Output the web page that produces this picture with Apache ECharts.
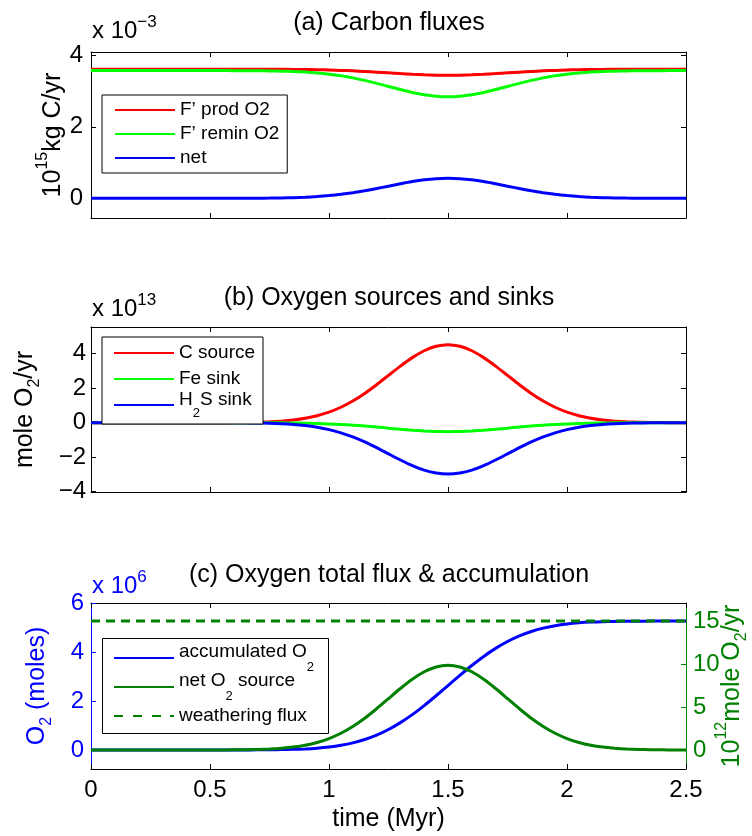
<!DOCTYPE html>
<html><head><meta charset="utf-8">
<script src="https://cdn.jsdelivr.net/npm/echarts@6/dist/echarts.min.js"></script>
<style>html,body{margin:0;padding:0;background:#fff}#c{width:752px;height:836px}</style>
</head><body><div id="c"></div>
<script>
// ---- data ----
const time = [0,0.05,0.1,0.15,0.2,0.25,0.3,0.35,0.4,0.45,0.5,0.55,0.6,0.65,0.7,0.75,0.8,0.85,0.9,0.95,1,1.05,1.1,1.15,1.2,1.25,1.3,1.35,1.4,1.45,1.5,1.55,1.6,1.65,1.7,1.75,1.8,1.85,1.9,1.95,2,2.05,2.1,2.15,2.2,2.25,2.3,2.35,2.4,2.45,2.5];
// (a) carbon fluxes, x 10^-3 (10^15 kg C/yr)
const prodO2 = [3.61,3.61,3.61,3.61,3.61,3.61,3.61,3.61,3.61,3.61,3.61,3.61,3.610,3.609,3.609,3.608,3.607,3.604,3.600,3.595,3.587,3.576,3.563,3.546,3.527,3.507,3.487,3.468,3.453,3.443,3.440,3.443,3.453,3.468,3.487,3.507,3.527,3.546,3.563,3.576,3.587,3.595,3.600,3.604,3.607,3.608,3.609,3.609,3.610,3.61,3.61];
const reminO2 = [3.57,3.57,3.57,3.57,3.57,3.57,3.57,3.57,3.57,3.57,3.57,3.57,3.569,3.568,3.566,3.562,3.555,3.545,3.529,3.505,3.471,3.425,3.367,3.296,3.214,3.127,3.040,2.960,2.896,2.855,2.840,2.855,2.896,2.960,3.040,3.127,3.214,3.296,3.367,3.425,3.471,3.505,3.529,3.545,3.555,3.562,3.566,3.568,3.569,3.57,3.57];
const netC = [0,0,0,0,0,0,0,0,0,0,0,0,0.001,0.002,0.003,0.006,0.011,0.019,0.031,0.050,0.076,0.111,0.156,0.210,0.273,0.340,0.407,0.468,0.517,0.549,0.560,0.549,0.517,0.468,0.407,0.340,0.273,0.210,0.156,0.111,0.076,0.050,0.031,0.019,0.011,0.006,0.003,0.002,0.001,0,0];
// (b) oxygen sources and sinks, x 10^13 mole O2/yr
const cSource = [0,0,0,0,0,0,0,0,0,0,0,0,0.007,0.014,0.027,0.050,0.090,0.154,0.253,0.402,0.610,0.895,1.257,1.695,2.201,2.744,3.282,3.774,4.172,4.430,4.520,4.430,4.172,3.774,3.282,2.744,2.201,1.695,1.257,0.895,0.610,0.402,0.253,0.154,0.090,0.050,0.027,0.014,0.007,0,0];
const feSink = [0,0,0,0,0,0,0,0,0,0,0,0,-0.001,-0.002,-0.003,-0.006,-0.010,-0.018,-0.029,-0.046,-0.070,-0.103,-0.145,-0.195,-0.253,-0.316,-0.378,-0.434,-0.480,-0.510,-0.520,-0.510,-0.480,-0.434,-0.378,-0.316,-0.253,-0.195,-0.145,-0.103,-0.070,-0.046,-0.029,-0.018,-0.010,-0.006,-0.003,-0.002,-0.001,0,0];
const h2sSink = [0,0,0,0,0,0,0,0,0,0,0,0,-0.004,-0.009,-0.018,-0.033,-0.060,-0.101,-0.167,-0.265,-0.402,-0.590,-0.828,-1.118,-1.451,-1.809,-2.163,-2.488,-2.751,-2.920,-2.980,-2.920,-2.751,-2.488,-2.163,-1.809,-1.451,-1.118,-0.828,-0.590,-0.402,-0.265,-0.167,-0.101,-0.060,-0.033,-0.018,-0.009,-0.004,0,0];
// (c) accumulated O2 (x 10^6 moles) and net O2 source (10^12 mole O2/yr)
const accumO2 = [0,0,0,0,0,0,0,0,0,0,0,0,0.001,0.002,0.004,0.007,0.014,0.025,0.043,0.073,0.120,0.190,0.289,0.427,0.608,0.838,1.119,1.448,1.819,2.221,2.640,3.059,3.461,3.832,4.161,4.442,4.672,4.853,4.991,5.090,5.160,5.207,5.237,5.255,5.266,5.273,5.276,5.278,5.279,5.28,5.28];
const netO2Source = [0,0,0,0,0,0,0,0,0,0,0,0,0.015,0.030,0.059,0.108,0.197,0.335,0.552,0.877,1.330,1.950,2.738,3.694,4.797,5.979,7.151,8.225,9.092,9.653,9.850,9.653,9.092,8.225,7.151,5.979,4.797,3.694,2.738,1.950,1.330,0.877,0.552,0.335,0.197,0.108,0.059,0.030,0.015,0,0];
const weatherTime = [0, 2.5];
const weatheringFlux = [15, 15];
// tick labels
const xTicks = [0, 0.5, 1, 1.5, 2, 2.5];
const aTicks = [0, 2, 4];
const bTicks = [-4, -2, 0, 2, 4];
const cLeftTicks = [0, 2, 4, 6];
const cRightTicks = [0, 5, 10, 15];
// legend labels (rich text for subscripts)
const legendLabels = {
  'C source': '{c|C source}',
  'Fe sink': '{c|Fe sink}',
  'H2S sink': '{t|H}{s|2}{t|S sink}{z| }',
  'accumulated O2': '{t|accumulated O}{s|2}{z| }',
  'net O2 source': '{t|net O}{s|2}{t| source}{z| }',
  'weathering flux': '{c|weathering flux}'
};

// ---- chart ----
const FONT = '"Liberation Sans", Arial, Helvetica, sans-serif';
const BLUE = '#0000ff', RED = '#ff0000', LIME = '#00ff00', DGREEN = '#008000';
const DASH_ICON = 'path://M0 0H9V2H0Z M19 0H28V2H19Z M38 0H47V2H38Z M56 0H60V2H56Z';
const chart = echarts.init(document.getElementById('c'), null, {renderer: 'canvas'});
function pairs(xs, ys) { return xs.map((t, i) => [t, ys[i]]); }
function fmt(v) { return v < 0 ? '\u2212' + Math.abs(v) : String(v); }

const nameRich = {
  b: {fontSize: 25, fontFamily: FONT, lineHeight: 36},
  p: {fontSize: 16, fontFamily: FONT, lineHeight: 16, verticalAlign: 'top'},
  s: {fontSize: 16, fontFamily: FONT, lineHeight: 16, verticalAlign: 'bottom'}
};

function xAx(gi, pos, labels) {
  const a = {
    type: 'value', gridIndex: gi, position: pos, min: 0, max: 2.5, interval: 0.5,
    axisLine: {show: true, onZero: false, lineStyle: {color: '#000', width: 1}},
    axisTick: {show: true, inside: true, length: 5, customValues: xTicks, lineStyle: {color: '#000'}},
    axisLabel: {show: labels, customValues: xTicks, fontSize: 24, fontFamily: FONT, color: '#000', margin: 9,
                showMinLabel: true, showMaxLabel: true},
    splitLine: {show: false}
  };
  if (labels) {
    a.name = 'time (Myr)'; a.nameLocation = 'middle'; a.nameGap = 38;
    a.nameTextStyle = {fontSize: 25, fontFamily: FONT, color: '#000'};
  }
  return a;
}
function yAx(gi, pos, min, max, ticks, opts) {
  const color = opts.color || '#000';
  const a = {
    type: 'value', gridIndex: gi, position: pos, min: min, max: max,
    axisLine: {show: true, onZero: false, lineStyle: {color: opts.lineColor || color, width: 1}},
    axisTick: {show: true, inside: true, length: 5, customValues: ticks, lineStyle: {color: opts.lineColor || color}},
    axisLabel: {show: !!opts.labels, customValues: ticks, formatter: fmt, fontSize: 24, fontFamily: FONT,
                color: color, margin: opts.margin || 7},
    splitLine: {show: false}
  };
  if (opts.name) {
    a.name = opts.name; a.nameLocation = 'middle'; a.nameGap = opts.nameGap; a.nameRotate = 90;
    a.nameMoveOverlap = false;
    a.nameTextStyle = {color: color, fontFamily: FONT, fontSize: 25, rich: nameRich};
  }
  return a;
}
function legendBase(top, pad, gap) {
  return {
    orient: 'vertical', left: 102, top: top,
    itemWidth: 60, itemHeight: 2, itemGap: gap, padding: pad,
    borderColor: '#000', borderWidth: 1, borderRadius: 0, backgroundColor: '#fff',
    icon: 'rect', selectedMode: false
  };
}
// block height L; main text centred at tC from block top; subscript centred at sC
function subRich(L, tC, sC) {
  return {
    c: {fontSize: 19, fontFamily: FONT, color: '#000', lineHeight: L, verticalAlign: 'middle'},
    t: {fontSize: 19, fontFamily: FONT, color: '#000', lineHeight: 2 * tC, verticalAlign: 'top'},
    s: {fontSize: 13, fontFamily: FONT, color: '#000', lineHeight: 2 * (L - sC), verticalAlign: 'bottom'},
    z: {fontSize: 4, fontFamily: FONT, color: '#000', lineHeight: L, verticalAlign: 'middle'}
  };
}

const option = {
  animation: false,
  backgroundColor: '#fff',
  textStyle: {fontFamily: FONT},
  grid: [
    {left: 91, right: 66, top: 52, height: 166, outerBoundsMode: 'none'},
    {left: 91, right: 66, top: 327, height: 165, outerBoundsMode: 'none'},
    {left: 91, right: 66, top: 603, height: 166, outerBoundsMode: 'none'}
  ],
  xAxis: [xAx(0, 'bottom', false), xAx(0, 'top', false), xAx(1, 'bottom', false), xAx(1, 'top', false), xAx(2, 'bottom', true), xAx(2, 'top', false)],
  yAxis: [
    yAx(0, 'left', -0.55, 4.09, aTicks, {labels: true, margin: 8, name: '{b|10}{p|15}{b|kg C/yr}', nameGap: 20}),
    yAx(0, 'right', -0.55, 4.09, aTicks, {}),
    yAx(1, 'left', -4.02, 5.55, bTicks, {labels: true, margin: 5, name: '{b|mole O}{s|2}{b|/yr}', nameGap: 48}),
    yAx(1, 'right', -4.02, 5.55, bTicks, {}),
    yAx(2, 'left', -0.78, 6.02, cLeftTicks, {labels: true, margin: 7, color: BLUE, name: '{b|O}{s|2}{b| (moles)}', nameGap: 36}),
    yAx(2, 'right', -2.21, 17.09, cRightTicks, {labels: true, margin: 7, color: DGREEN, name: '{b|10}{p|12}{b|mole O}{s|2}{b|/yr}', nameGap: 28})
  ],
  legend: [
    Object.assign(legendBase(95, [5, 8, 5, 13], 4), {
      data: ["F\u2019 prod O2", "F\u2019 remin O2", 'net'],
      textStyle: {fontSize: 19, fontFamily: FONT, color: '#000', lineHeight: 20}
    }),
    Object.assign(legendBase(337, [1, 8, 4, 12], -4), {
      data: ['C source', 'Fe sink', 'H2S sink'],
      formatter: n => legendLabels[n],
      textStyle: {color: '#000', fontSize: 19, lineHeight: 30, rich: subRich(30, 6, 20)}
    }),
    Object.assign(legendBase(638, [4, 8, 2, 12], -3), {
      data: ['accumulated O2', 'net O2 source', {name: 'weathering flux', icon: DASH_ICON}],
      formatter: n => legendLabels[n],
      borderWidth: 0, backgroundColor: 'transparent',
      textStyle: {color: '#000', fontSize: 19, lineHeight: 32, rich: subRich(32, 10, 20)}
    })
  ],
  series: [
    {name: "F\u2019 prod O2", type: 'line', xAxisIndex: 0, yAxisIndex: 0, data: pairs(time, prodO2), symbol: 'none', smooth: 0.2, lineStyle: {color: RED, width: 3}, itemStyle: {color: RED}},
    {name: "F\u2019 remin O2", type: 'line', xAxisIndex: 0, yAxisIndex: 0, data: pairs(time, reminO2), symbol: 'none', smooth: 0.2, lineStyle: {color: LIME, width: 3}, itemStyle: {color: LIME}},
    {name: 'net', type: 'line', xAxisIndex: 0, yAxisIndex: 0, data: pairs(time, netC), symbol: 'none', smooth: 0.2, lineStyle: {color: BLUE, width: 3}, itemStyle: {color: BLUE}},
    {name: 'C source', type: 'line', xAxisIndex: 2, yAxisIndex: 2, data: pairs(time, cSource), symbol: 'none', smooth: 0.2, lineStyle: {color: RED, width: 3}, itemStyle: {color: RED}},
    {name: 'Fe sink', type: 'line', xAxisIndex: 2, yAxisIndex: 2, data: pairs(time, feSink), symbol: 'none', smooth: 0.2, lineStyle: {color: LIME, width: 3}, itemStyle: {color: LIME}},
    {name: 'H2S sink', type: 'line', xAxisIndex: 2, yAxisIndex: 2, data: pairs(time, h2sSink), symbol: 'none', smooth: 0.2, lineStyle: {color: BLUE, width: 3}, itemStyle: {color: BLUE}},
    {name: 'accumulated O2', type: 'line', xAxisIndex: 4, yAxisIndex: 4, data: pairs(time, accumO2), symbol: 'none', smooth: 0.2, lineStyle: {color: BLUE, width: 3}, itemStyle: {color: BLUE}},
    {name: 'net O2 source', type: 'line', xAxisIndex: 4, yAxisIndex: 5, data: pairs(time, netO2Source), symbol: 'none', smooth: 0.2, lineStyle: {color: DGREEN, width: 3}, itemStyle: {color: DGREEN}},
    {name: 'weathering flux', type: 'line', xAxisIndex: 4, yAxisIndex: 5, data: pairs(weatherTime, weatheringFlux), symbol: 'none', lineStyle: {color: DGREEN, width: 3, type: [9, 6]}, itemStyle: {color: DGREEN}}
  ],
  graphic: [
    {type: 'rect', z: 3, shape: {x: 102.5, y: 638.5, width: 226, height: 95}, style: {fill: '#fff', stroke: '#000', lineWidth: 1}},
    {type: 'text', x: 389, y: 23, style: {text: '(a) Carbon fluxes', fontSize: 25, fontFamily: FONT, fill: '#000', align: 'center', verticalAlign: 'middle'}},
    {type: 'text', x: 389, y: 298, style: {text: '(b) Oxygen sources and sinks', fontSize: 25, fontFamily: FONT, fill: '#000', align: 'center', verticalAlign: 'middle'}},
    {type: 'text', x: 389, y: 575, style: {text: '(c) Oxygen total flux & accumulation', fontSize: 25, fontFamily: FONT, fill: '#000', align: 'center', verticalAlign: 'middle'}},
    {type: 'text', x: 92, y: 31, style: {text: '{b|x 10}{p|\u22123}', fill: '#000', align: 'left', verticalAlign: 'middle',
      rich: {b: {fontSize: 24, fontFamily: FONT, lineHeight: 34}, p: {fontSize: 17, fontFamily: FONT, lineHeight: 17, verticalAlign: 'top'}}}},
    {type: 'text', x: 92, y: 309, style: {text: '{b|x 10}{p|13}', fill: '#000', align: 'left', verticalAlign: 'middle',
      rich: {b: {fontSize: 24, fontFamily: FONT, lineHeight: 34}, p: {fontSize: 17, fontFamily: FONT, lineHeight: 17, verticalAlign: 'top'}}}},
    {type: 'text', x: 92, y: 586, style: {text: '{b|x 10}{p|6}', fill: BLUE, align: 'left', verticalAlign: 'middle',
      rich: {b: {fontSize: 24, fontFamily: FONT, lineHeight: 34, color: BLUE}, p: {fontSize: 17, fontFamily: FONT, lineHeight: 17, verticalAlign: 'top', color: BLUE}}}}
  ]
};
chart.setOption(option);
</script>
</body></html>
